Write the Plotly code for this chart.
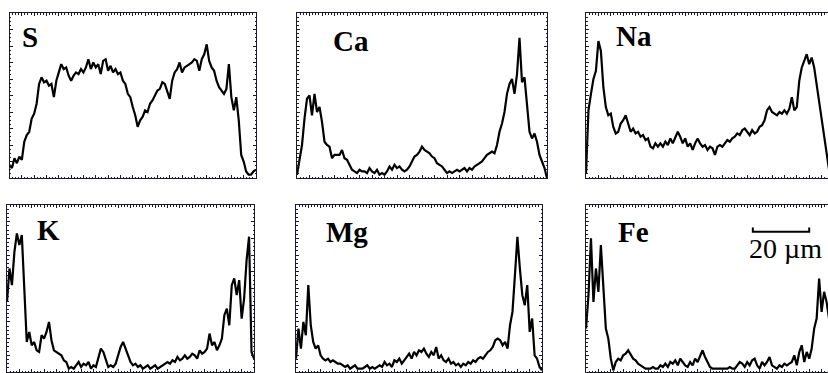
import plotly.graph_objects as go

# ---------------- data (intensity, % of panel full scale) ----------------
elements = ["S", "Ca", "Na", "K", "Mg", "Fe"]
scan_step_um = 0.88          # distance between samples along the scan line
scale_bar_um = 20
scale_bar_start_um = 59.2

S_counts = [8, 6, 12, 9, 13, 11, 22, 26, 28, 36,
            39, 45, 57, 61, 58, 59, 56, 57, 49, 59,
            64, 69, 66, 67, 62, 59, 62, 64, 63, 66,
            64, 67, 72, 66, 70, 67, 69, 63, 71, 72,
            65, 68, 64, 66, 63, 64, 59, 57, 51, 49,
            43, 38, 31, 35, 37, 41, 40, 45, 47, 50,
            53, 54, 58, 57, 53, 48, 59, 64, 66, 70,
            64, 67, 68, 69, 70, 72, 71, 65, 72, 75,
            81, 71, 67, 65, 59, 55, 53, 51, 54, 69,
            49, 41, 49, 35, 14, 10, 4, 2, 2, 4,
            5]
Ca_counts = [2, 12, 20, 36, 48, 50, 38, 51, 40, 43,
             34, 22, 20, 19, 12, 14, 14, 14, 17, 12,
             11, 8, 5, 4, 3, 5, 4, 4, 3, 6,
             4, 3, 5, 2, 3, 2, 4, 7, 5, 8,
             6, 7, 5, 4, 5, 7, 10, 13, 14, 16,
             19, 17, 16, 15, 13, 12, 9, 8, 7, 5,
             3, 4, 3, 4, 5, 4, 5, 6, 4, 6,
             5, 7, 8, 9, 10, 12, 14, 15, 16, 15,
             20, 28, 33, 40, 51, 57, 60, 51, 63, 85,
             58, 61, 42, 28, 24, 27, 22, 14, 10, 6,
             0]
Na_counts = [3, 41, 51, 60, 65, 83, 77, 55, 43, 38,
             39, 31, 27, 28, 33, 35, 38, 33, 28, 30,
             27, 28, 25, 26, 23, 24, 19, 18, 21, 19,
             21, 19, 22, 20, 24, 21, 25, 28, 25, 21,
             24, 19, 21, 17, 21, 24, 21, 19, 20, 17,
             19, 18, 14, 19, 20, 19, 21, 23, 22, 24,
             25, 27, 26, 29, 30, 28, 26, 29, 27, 28,
             31, 32, 35, 41, 43, 40, 39, 38, 40, 39,
             41, 39, 42, 49, 41, 43, 59, 67, 71, 75,
             69, 73, 67, 57, 45, 37, 27, 17, 5, 0,
             0]
K_counts = [42, 62, 52, 72, 83, 76, 82, 46, 18, 24,
            16, 18, 13, 12, 22, 20, 24, 30, 19, 13,
            12, 11, 10, 7, 6, 2, 3, 2, 4, 6,
            3, 5, 4, 6, 2, 4, 3, 8, 14, 12,
            8, 3, 4, 3, 5, 10, 15, 18, 14, 9,
            6, 4, 5, 3, 4, 2, 3, 4, 2, 3,
            4, 2, 3, 4, 5, 6, 5, 7, 6, 9,
            7, 8, 10, 8, 9, 11, 10, 8, 13, 11,
            12, 14, 23, 16, 18, 13, 16, 20, 34, 38,
            28, 52, 56, 46, 55, 32, 44, 67, 81, 12,
            8]
Mg_counts = [8, 26, 14, 30, 22, 52, 28, 18, 14, 16,
             10, 8, 7, 8, 6, 7, 6, 5, 5, 4,
             3, 4, 2, 3, 4, 2, 2, 2, 3, 4,
             2, 3, 2, 3, 4, 3, 6, 4, 5, 3,
             7, 6, 8, 5, 7, 9, 11, 8, 12, 10,
             13, 12, 14, 11, 9, 12, 10, 15, 8, 10,
             7, 6, 8, 5, 6, 4, 5, 3, 5, 4,
             6, 5, 7, 6, 8, 9, 8, 10, 12, 13,
             15, 19, 20, 19, 16, 18, 14, 28, 36, 58,
             81, 62, 46, 40, 52, 24, 32, 10, 8, 3,
             1]
Fe_counts = [26, 46, 80, 42, 62, 48, 76, 52, 26, 20,
             8, 1, 6, 8, 7, 10, 11, 13, 10, 8,
             7, 5, 4, 3, 2, 2, 2, 3, 2, 2,
             4, 3, 5, 3, 6, 5, 7, 4, 8, 6,
             4, 3, 6, 4, 8, 6, 10, 13, 9, 6,
             3, 2, 2, 2, 2, 2, 2, 2, 3, 2,
             2, 4, 6, 5, 3, 6, 4, 7, 8, 4,
             2, 6, 4, 6, 9, 4, 3, 2, 4, 3,
             5, 4, 5, 6, 10, 4, 12, 16, 6, 12,
             8, 14, 26, 32, 56, 36, 48, 42, 32, 45,
             40]

profiles = {"S": S_counts, "Ca": Ca_counts, "Na": Na_counts,
            "K": K_counts, "Mg": Mg_counts, "Fe": Fe_counts}

# ---------------- layout ----------------
W, H = 828, 373
# panel boxes in pixels: left, top, right, bottom
boxes = {
    "S": (9.5, 13, 256, 178),
    "Ca": (297, 13, 547, 178),
    "Na": (586, 13, 834, 178),
    "K": (7, 205, 254, 372),
    "Mg": (296, 205, 542, 372),
    "Fe": (586, 205, 834, 372),
}
# label positions (left px, middle px)
label_pos = {
    "S": (20, 37), "Ca": (331, 41), "Na": (614, 36),
    "K": (35, 230), "Mg": (324, 232), "Fe": (616, 232),
}

AX = "#1a1a2a"
LINE = "#000000"

fig = go.Figure()
layout = dict(width=W, height=H, margin=dict(l=0, r=0, t=0, b=0),
              paper_bgcolor="white", plot_bgcolor="white",
              showlegend=False, annotations=[], shapes=[])

for i, el in enumerate(elements, start=1):
    vals = profiles[el]
    pos = [k * scan_step_um for k in range(len(vals))]
    scan_len = scan_step_um * (len(vals) - 1)
    l, t, r, b = boxes[el]
    vis_r = min(r, W)
    xmax = scan_len * (vis_r - l) / (r - l)
    sfx = "" if i == 1 else str(i)
    fig.add_trace(go.Scatter(x=pos, y=vals, mode="lines",
                             line=dict(color=LINE, width=2.2),
                             xaxis="x" + sfx, yaxis="y" + sfx,
                             hoverinfo="skip"))
    right_col = r > W
    layout["xaxis" + sfx] = dict(
        domain=[l / W, vis_r / W], range=[0, xmax], anchor="y" + sfx,
        showline=True, linecolor=AX, linewidth=1, mirror="ticks",
        ticks="inside", ticklen=3, tickcolor=AX, tick0=0, dtick=scan_len / 20,
        minor=dict(ticks="inside", ticklen=1.5, tickcolor=AX, dtick=scan_len / 80),
        showticklabels=False, showgrid=False, zeroline=False, fixedrange=True)
    layout["yaxis" + sfx] = dict(
        domain=[1 - b / H, 1 - t / H], range=[0, 100], anchor="x" + sfx,
        showline=True, linecolor=AX, linewidth=1,
        mirror=False if right_col else "ticks",
        ticks="inside", ticklen=3, tickcolor=AX, tick0=0, dtick=10,
        minor=dict(ticks="inside", ticklen=1.5, tickcolor=AX, dtick=2.5),
        showticklabels=False, showgrid=False, zeroline=False, fixedrange=True)
    lx, ly = label_pos[el]
    layout["annotations"].append(dict(
        text=el, x=lx / W, y=1 - ly / H, xref="paper", yref="paper",
        xanchor="left", yanchor="middle", showarrow=False,
        font=dict(family="Liberation Serif", size=29, color="black", weight="bold")))

# scale bar in Fe panel (data units: micrometres)
x0 = scale_bar_start_um
x1 = scale_bar_start_um + scale_bar_um
layout["shapes"].append(dict(
    type="path", xref="x6", yref="y6",
    path=f"M {x0},86.6 L {x0},84 L {x1},84 L {x1},86.6",
    line=dict(color="black", width=2)))
layout["annotations"].append(dict(
    text=f"{scale_bar_um} µm", x=(x0 + x1) / 2 + 1.5, y=74, xref="x6", yref="y6",
    xanchor="center", yanchor="middle", showarrow=False,
    font=dict(family="Liberation Serif", size=28, color="black")))

fig.update_layout(**layout)
fig.write_html("out.html",
               config={"displayModeBar": False, "staticPlot": True},
               post_script="document.body.style.margin='0';document.body.style.overflow='hidden';")
